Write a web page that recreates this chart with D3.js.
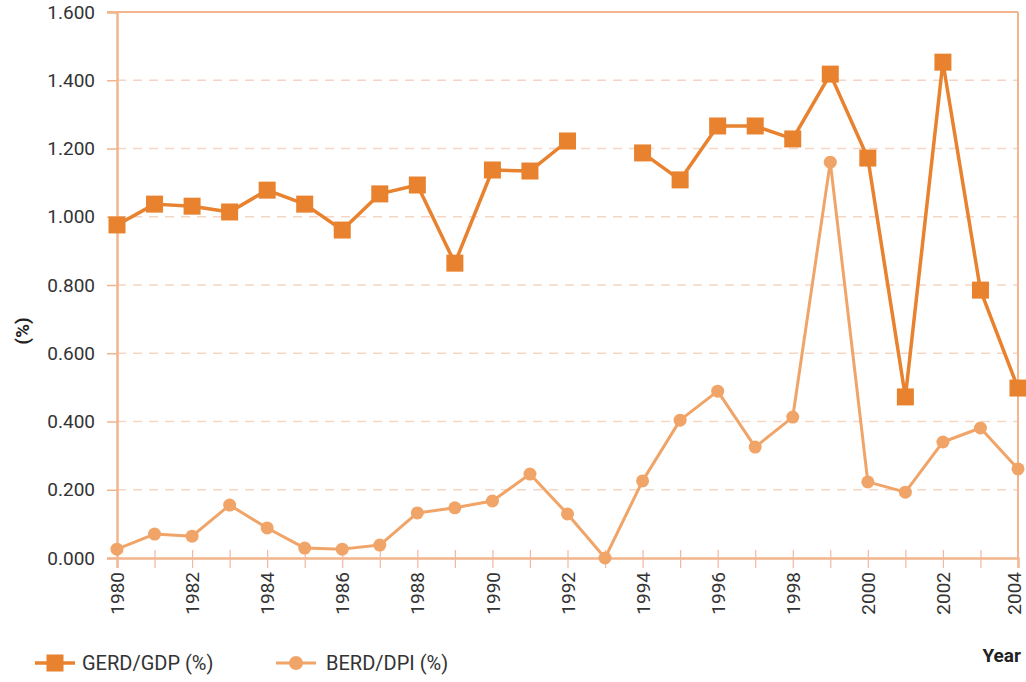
<!DOCTYPE html>
<html>
<head>
<meta charset="utf-8">
<script src="https://cdn.jsdelivr.net/npm/d3@7"></script>
<style>
  html, body { margin: 0; padding: 0; background: #fff; }
  svg { display: block; font-family: Roboto, "Noto Sans", sans-serif; }
</style>
</head>
<body>
<svg id="chart" width="1026" height="682"></svg>
<script>
// Years on the x axis
const years = d3.range(1980, 2005);
// Gross expenditure on R&D as share of GDP (1993 not reported)
const gerdGdp = [0.976, 1.037, 1.031, 1.014, 1.078, 1.037, 0.961, 1.067, 1.093, 0.864,
                 1.137, 1.134, 1.222, null, 1.187, 1.108, 1.266, 1.266, 1.228, 1.418,
                 1.172, 0.472, 1.453, 0.785, 0.498];
// Business expenditure on R&D as share of DPI
const berdDpi = [0.026, 0.070, 0.064, 0.155, 0.088, 0.029, 0.026, 0.038, 0.132, 0.147,
                 0.167, 0.246, 0.129, 0.000, 0.226, 0.404, 0.489, 0.325, 0.413, 1.160,
                 0.223, 0.193, 0.340, 0.381, 0.261];
const yTicks = [0, 0.2, 0.4, 0.6, 0.8, 1.0, 1.2, 1.4, 1.6];
const xLabelYears = d3.range(1980, 2005, 2);
const seriesNames = ["GERD/GDP (%)", "BERD/DPI (%)"];

const svg = d3.select("#chart");
const m = { left: 117, right: 1018, top: 12, bottom: 558 };

const x = d3.scaleLinear().domain([1980, 2004]).range([m.left, m.right]);
const y = d3.scaleLinear().domain([0, 1.6]).range([m.bottom, m.top]);

const axisColor = "#f2b58c";
const gridColor = "#f5d6c4";
const gerdColor = "#e8822e";
const berdColor = "#f0a468";
const fmt = d3.format(".3f");

// Dashed horizontal gridlines
svg.append("g").selectAll("line")
  .data(yTicks.filter(t => t > 0 && t < 1.6))
  .join("line")
  .attr("x1", m.left).attr("x2", m.right)
  .attr("y1", d => y(d)).attr("y2", d => y(d))
  .attr("stroke", gridColor).attr("stroke-width", 1.5)
  .attr("stroke-dasharray", "9,7");

// Frame: top and right edges
svg.append("line")
  .attr("x1", m.left - 10).attr("x2", m.right)
  .attr("y1", y(1.6)).attr("y2", y(1.6))
  .attr("stroke", axisColor).attr("stroke-width", 2);
svg.append("line")
  .attr("x1", m.right).attr("x2", m.right)
  .attr("y1", y(1.6)).attr("y2", y(0))
  .attr("stroke", axisColor).attr("stroke-width", 2);

// Y axis
const yAxis = svg.append("g")
  .attr("transform", `translate(${m.left},0)`)
  .call(d3.axisLeft(y).tickValues(yTicks).tickFormat(fmt).tickSize(10).tickPadding(12));
yAxis.select(".domain").attr("stroke", axisColor).attr("stroke-width", 2.5);
yAxis.selectAll(".tick line").attr("stroke", axisColor).attr("stroke-width", 1.5);
yAxis.selectAll(".tick text")
  .attr("fill", "#333").style("font-size", "19px")
  .style("font-family", "Roboto, sans-serif");

// X axis: a tick for every year, labels every two years
const xAxis = svg.append("g")
  .attr("transform", `translate(0,${m.bottom})`)
  .call(d3.axisBottom(x).tickValues(years).tickSize(10)
    .tickFormat(d => xLabelYears.includes(d) ? String(d) : ""));
xAxis.select(".domain").attr("stroke", axisColor).attr("stroke-width", 2.5);
xAxis.selectAll(".tick line")
  .attr("y1", -8).attr("y2", 10)
  .attr("stroke", "#f0b8a0").attr("stroke-width", 1.2);
xAxis.selectAll(".tick text")
  .attr("transform", "rotate(-90)")
  .attr("x", -14).attr("y", d => d === 2004 ? -4 : 0).attr("dy", "0.35em")
  .attr("text-anchor", "end")
  .attr("fill", "#333").style("font-size", "19px")
  .style("font-family", "Roboto, sans-serif");

// Axis titles
svg.append("text")
  .attr("transform", `translate(22,${(m.top + m.bottom) / 2 + 46}) rotate(-90)`)
  .attr("text-anchor", "middle").attr("dy", "0.35em")
  .attr("font-weight", "bold").attr("font-size", 19).attr("fill", "#222")
  .text("(%)");
svg.append("text")
  .attr("x", 1021).attr("y", 662)
  .attr("text-anchor", "end")
  .attr("font-weight", "bold").attr("font-size", 19).attr("fill", "#222")
  .text("Year");

// BERD/DPI series: line with circles
const berdData = years.map((yr, i) => ({ yr, v: berdDpi[i] }));
svg.append("path")
  .datum(berdData)
  .attr("fill", "none").attr("stroke", berdColor).attr("stroke-width", 3)
  .attr("stroke-linejoin", "round")
  .attr("d", d3.line().x(d => x(d.yr)).y(d => y(d.v)));
svg.append("g").selectAll("circle")
  .data(berdData).join("circle")
  .attr("cx", d => x(d.yr)).attr("cy", d => y(d.v)).attr("r", 6.5)
  .attr("fill", berdColor);

// GERD/GDP series: line with squares, broken where data is missing
const gerdData = years.map((yr, i) => ({ yr, v: gerdGdp[i] }));
svg.append("path")
  .datum(gerdData)
  .attr("fill", "none").attr("stroke", gerdColor).attr("stroke-width", 3.5)
  .attr("stroke-linejoin", "round")
  .attr("d", d3.line().defined(d => d.v !== null).x(d => x(d.yr)).y(d => y(d.v)));
const sq = 17;
svg.append("g").selectAll("rect")
  .data(gerdData.filter(d => d.v !== null)).join("rect")
  .attr("x", d => x(d.yr) - sq / 2).attr("y", d => y(d.v) - sq / 2)
  .attr("width", sq).attr("height", sq)
  .attr("fill", gerdColor);

// Legend
const legend = svg.append("g");
const lg1 = legend.append("g").attr("transform", "translate(35,663)");
lg1.append("line").attr("x1", 0).attr("x2", 40).attr("stroke", gerdColor).attr("stroke-width", 3.5);
lg1.append("rect").attr("x", 20 - sq / 2).attr("y", -sq / 2).attr("width", sq).attr("height", sq).attr("fill", gerdColor);
lg1.append("text").attr("x", 47).attr("dy", "0.35em")
  .attr("font-size", 20).attr("fill", "#333").text(seriesNames[0]);

const lg2 = legend.append("g").attr("transform", "translate(276,663)");
lg2.append("line").attr("x1", 0).attr("x2", 40).attr("stroke", berdColor).attr("stroke-width", 3);
lg2.append("circle").attr("cx", 20).attr("r", 7).attr("fill", berdColor);
lg2.append("text").attr("x", 50).attr("dy", "0.35em")
  .attr("font-size", 20).attr("fill", "#333").text(seriesNames[1]);
</script>
</body>
</html>
